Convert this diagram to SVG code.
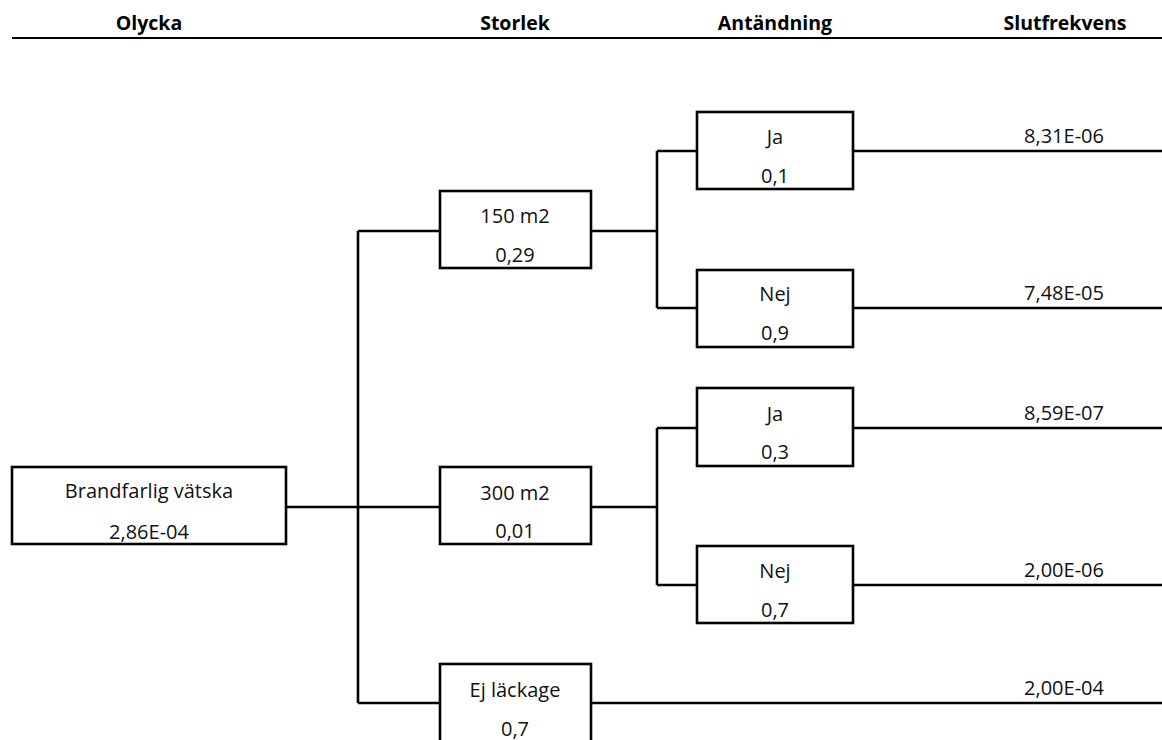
<svg xmlns="http://www.w3.org/2000/svg" width="1162" height="740" viewBox="0 0 1162 740">
<style>
.hdr{font-family:"Open Sans","Noto Sans","Liberation Sans",sans-serif;font-weight:bold;font-size:19.5px;fill:#000;text-anchor:middle}
.t{font-family:"Open Sans","Noto Sans","Liberation Sans",sans-serif;font-size:20px;fill:#111;text-anchor:middle}
.box{fill:#fff;stroke:#000;stroke-width:2.6}
.ln{fill:none;stroke:#000;stroke-width:2.6}
</style>
<rect width="1162" height="740" fill="#fff"/>
<g id="header">
<text class="hdr" x="149" y="30">Olycka</text>
<text class="hdr" x="515" y="30">Storlek</text>
<text class="hdr" x="775" y="30">Antändning</text>
<text class="hdr" x="1065" y="30">Slutfrekvens</text>
<line x1="12" y1="38" x2="1162" y2="38" stroke="#000" stroke-width="2.2"/>
</g>
<g id="connectors">
<path class="ln" d="M286,507H358M358,231V703M358,231H440M358,507H440M358,703H440"/>
<path class="ln" d="M591,231H657M657,151V308M657,151H697M657,308H697"/>
<path class="ln" d="M591,507H657M657,428V585M657,428H697M657,585H697"/>
<path class="ln" d="M853,151H1162M853,308H1162M853,428H1162M853,585H1162M591,703H1162"/>
</g>
<g id="root">
<rect class="box" x="12" y="467" width="274" height="77"/>
<text class="t" x="149" y="498">Brandfarlig vätska</text>
<text class="t" x="149" y="539">2,86E-04</text>
</g>
<g id="s150">
<rect class="box" x="440" y="191" width="151" height="77"/>
<text class="t" x="515" y="223">150 m2</text>
<text class="t" x="515" y="262">0,29</text>
</g>
<g id="s300">
<rect class="box" x="440" y="467" width="151" height="77"/>
<text class="t" x="515" y="500">300 m2</text>
<text class="t" x="515" y="538">0,01</text>
</g>
<g id="ej">
<rect class="box" x="440" y="664" width="151" height="90"/>
<text class="t" x="515" y="697">Ej läckage</text>
<text class="t" x="515" y="736">0,7</text>
</g>
<g id="ja1">
<rect class="box" x="697" y="112" width="156" height="77"/>
<text class="t" x="775" y="144">Ja</text>
<text class="t" x="775" y="183">0,1</text>
</g>
<g id="nej1">
<rect class="box" x="697" y="270" width="156" height="77"/>
<text class="t" x="775" y="301">Nej</text>
<text class="t" x="775" y="340">0,9</text>
</g>
<g id="ja2">
<rect class="box" x="697" y="388" width="156" height="78"/>
<text class="t" x="775" y="421">Ja</text>
<text class="t" x="775" y="459">0,3</text>
</g>
<g id="nej2">
<rect class="box" x="697" y="546" width="156" height="77"/>
<text class="t" x="775" y="578">Nej</text>
<text class="t" x="775" y="617">0,7</text>
</g>
<g id="results">
<text class="t" x="1064" y="143">8,31E-06</text>
<text class="t" x="1064" y="300">7,48E-05</text>
<text class="t" x="1064" y="420">8,59E-07</text>
<text class="t" x="1064" y="577">2,00E-06</text>
<text class="t" x="1064" y="695">2,00E-04</text>
</g>
</svg>
